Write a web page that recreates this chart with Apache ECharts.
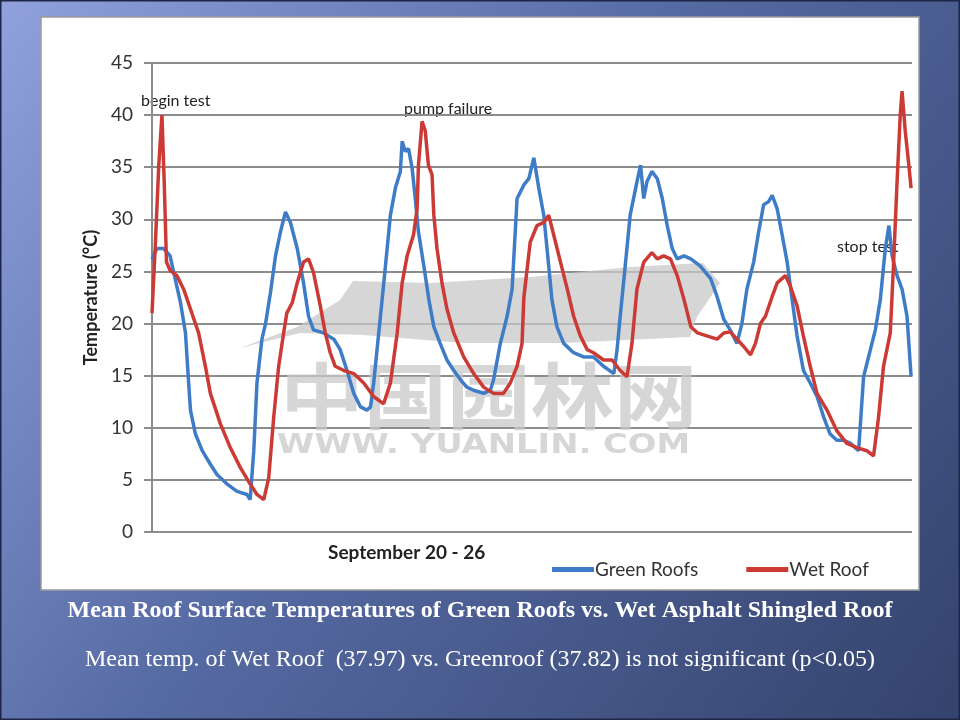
<!DOCTYPE html>
<html>
<head>
<meta charset="utf-8">
<script src="https://cdn.jsdelivr.net/npm/echarts@6/dist/echarts.min.js"></script>
<style>
  html, body { margin: 0; padding: 0; }
  #main { width: 960px; height: 720px; }
</style>
</head>
<body>
<div id="main"></div>
<script>
// hours since start of test (Sept 20 - 26)
var greenHours = [0,1.1,2.6,4.0,4.8,6.3,7.4,8.1,8.5,9.6,11.1,12.9,14.4,16.6,18.8,21.0,21.7,22.5,23.2,24.3,25.1,26.2,27.3,28.4,29.5,30.6,32.1,33.5,34.6,35.7,37.9,40.2,41.6,43.1,44.6,46.1,47.5,48.3,49.0,50.5,51.6,52.7,53.8,54.9,55.3,56.0,56.7,57.5,58.2,58.9,60.1,61.2,62.3,63.7,65.2,66.7,68.2,69.6,71.1,73.3,74.8,75.5,77.0,78.5,79.6,80.7,82.2,83.3,84.4,85.5,86.6,87.7,88.4,89.5,91.0,93.2,95.4,97.6,99.8,102.1,102.8,103.5,104.6,105.7,107.2,108.0,108.7,109.4,110.5,111.7,112.8,113.9,115.0,116.1,117.6,119.1,121.2,123.5,124.9,126.4,127.8,129.3,130.4,131.5,133.0,134.1,135.2,136.3,137.1,138.2,139.3,140.4,141.5,142.6,144.0,145.5,147.0,148.5,149.9,151.4,152.9,154.4,156.2,157.3,158.8,159.9,161.0,162.1,162.9,163.6,164.7,165.8,166.9,167.8];
var greenTemps = [26.2,27.2,27.2,26.5,24.9,22,19.1,14.3,11.7,9.4,7.8,6.5,5.5,4.6,3.9,3.6,3.1,7.8,14.3,18.5,20,23,26.5,28.8,30.7,29.7,27.2,23.9,20.7,19.4,19.1,18.5,17.5,15.5,13.3,12,11.7,12,14.3,20.7,25.5,30.4,33,34.6,37.5,36.5,36.8,34.9,32,28.8,25.5,22.3,19.7,18.1,16.5,15.5,14.6,13.9,13.6,13.3,13.6,14.6,18.1,20.7,23.3,32,33.3,33.9,35.9,33,30.4,25.5,22.3,19.7,18.1,17.2,16.8,16.8,15.9,15.2,17.5,20.7,25.5,30.4,33.6,35.2,32,33.6,34.6,33.9,32,29.4,27.2,26.2,26.5,26.2,25.5,24.3,22.6,20.4,19.4,18.1,20,23.3,25.9,28.8,31.4,31.7,32.3,31,28.5,25.9,22.3,18.8,15.5,14.3,13,11,9.4,8.8,8.8,8.5,7.8,14.9,17.5,19.4,22.3,27.2,29.4,26.5,24.6,23.3,20.7,14.9];

var wetHours = [0,0.7,1.5,2.2,2.7,3.2,4.0,5.5,7.0,8.5,10.3,11.8,12.9,15.1,17.3,19.5,21.7,23.2,24.7,25.8,26.9,28.0,29.1,29.8,31.0,32.1,33.5,34.6,35.7,37.2,38.3,39.4,40.5,42.4,44.6,46.8,49.0,51.2,52.7,54.2,55.3,56.4,57.8,58.6,58.9,59.7,60.4,61.1,61.9,62.3,63.0,64.1,65.2,66.7,68.9,71.1,73.3,75.5,77.7,79.2,80.7,81.8,82.2,83.6,85.1,86.6,87.7,88.8,90.3,91.8,93.2,94.7,96.2,97.6,99.8,101.7,103.5,105.0,106.1,107.2,108.7,110.5,111.7,113.1,114.6,116.1,117.6,119.1,120.6,122.8,124.9,126.4,127.8,129.3,130.8,132.3,133.4,134.5,135.6,137.1,138.2,140.0,141.1,142.6,144.0,145.5,147.0,149.2,151.4,153.6,155.8,158.0,159.5,160.6,161.7,163.2,163.9,164.7,165.4,165.8,166.5,167.3,167.8];
var wetTemps = [21,27.2,35.2,40,33.6,25.9,25.1,24.6,23.3,21.4,19.1,15.9,13.3,10.4,8.1,6.2,4.6,3.6,3.1,5.2,11,15.9,19.1,21,22,23.9,25.9,26.2,24.9,21.7,19.1,17.2,15.9,15.5,15.2,14.3,13,12.3,14.3,19.1,23.9,26.5,28.5,31,35.2,39.4,38.5,35.2,34.3,30.4,27.2,23.9,21.4,19.1,16.8,15.2,13.9,13.3,13.3,14.3,15.9,18.1,22.5,27.8,29.4,29.7,30.4,28.5,25.9,23.3,20.7,18.8,17.5,17.2,16.5,16.5,15.5,14.9,18.1,23.3,25.9,26.8,26.2,26.5,26.2,24.6,22.3,19.7,19.1,18.8,18.5,19.1,19.2,18.5,17.8,17,18.1,20,20.7,22.6,23.9,24.6,23.6,21.7,18.8,15.9,13.3,11.7,9.7,8.5,8.1,7.8,7.3,11,15.9,19.1,25.5,33.6,40,42.3,38.5,35.2,33];

var seriesNames = ['Green Roofs', 'Wet Roof'];
var yTicks = { min: 0, max: 45, step: 5 };

function pairs(hours, temps) {
    return hours.map(function (h, i) { return [h, temps[i]]; });
}

var chart = echarts.init(document.getElementById('main'));
var font = 'Lato, "Open Sans", sans-serif';
var wmGray = 'rgba(200,200,200,0.75)';

chart.setOption({
    backgroundColor: new echarts.graphic.LinearGradient(0, 0, 1, 1, [
        {offset: 0, color: '#90a1de'},
        {offset: 0.45, color: '#566aa3'},
        {offset: 1, color: '#34436d'}
    ]),
    animation: false,
    color: ['#3f7cc8', '#cc3a35'],
    grid: {left: 152, right: 48, top: 63, bottom: 188},
    xAxis: {
        type: 'value',
        min: 0,
        max: 168,
        axisLabel: {show: false},
        axisTick: {show: false},
        axisLine: {show: false},
        splitLine: {show: false}
    },
    yAxis: {
        type: 'value',
        min: yTicks.min,
        max: yTicks.max,
        interval: yTicks.step,
        name: 'Temperature (°C)',
        nameLocation: 'middle',
        nameGap: 48,
        nameTextStyle: {fontFamily: font, fontWeight: 'bold', fontSize: 18, color: '#222'},
        axisLine: {show: true, lineStyle: {color: '#8c8c8c', width: 2}},
        axisTick: {show: true, length: 8, lineStyle: {color: '#8c8c8c', width: 2}},
        axisLabel: {fontFamily: font, fontSize: 19, color: '#333', margin: 19},
        splitLine: {lineStyle: {color: '#8c8c8c', width: 2}}
    },
    legend: {
        left: 547,
        top: 555,
        itemWidth: 42,
        itemHeight: 5,
        itemGap: 48,
        icon: 'rect',
        textStyle: {fontFamily: font, fontSize: 19, color: '#333', padding: [0, 0, 0, -4]},
        data: seriesNames
    },
    graphic: [
        {type: 'rect', z: -10, shape: {x: 41, y: 17, width: 878, height: 573},
            style: {fill: '#fff', stroke: '#9a9a9a', lineWidth: 1.5}},
        {type: 'rect', z: -10, shape: {x: 0.5, y: 0.5, width: 959, height: 719},
            style: {fill: null, stroke: '#1e2645', lineWidth: 2}},
        {type: 'polygon', z: 1, shape: {points: [
            [240, 348], [297, 327], [340, 300], [353, 281], [430, 283], [530, 277], [630, 267],
            [703, 263], [720, 283], [697, 317], [690, 337], [563, 343], [463, 343], [363, 335], [300, 333]
        ]}, style: {fill: wmGray}},
        {type: 'text', z: 1, x: 280, y: 360, scaleX: 1.16,
            style: {text: '中国园林网', font: 'bold 72px "Noto Sans CJK SC"', fill: wmGray}},
        {type: 'text', z: 1, x: 277, y: 433, scaleX: 1.3,
            style: {text: 'WWW. YUANLIN. COM', font: 'bold 26px "DejaVu Sans"', fill: wmGray}},
        {type: 'text', left: 141, top: 93,
            style: {text: 'begin test', font: '16px ' + font, fill: '#222'}},
        {type: 'text', left: 404, top: 101,
            style: {text: 'pump failure', font: '16px ' + font, fill: '#222'}},
        {type: 'text', left: 837, top: 239,
            style: {text: 'stop test', font: '16px ' + font, fill: '#222'}},
        {type: 'text', left: 328, top: 543,
            style: {text: 'September 20 - 26', font: 'bold 19px ' + font, fill: '#222'}},
        {type: 'text', left: 'center', top: 599,
            style: {text: 'Mean Roof Surface Temperatures of Green Roofs vs. Wet Asphalt Shingled Roof',
                font: 'bold 24px "Liberation Serif", serif', fill: '#fff'}},
        {type: 'text', left: 'center', top: 648,
            style: {text: 'Mean temp. of Wet Roof  (37.97) vs. Greenroof (37.82) is not significant (p<0.05)',
                font: '24px "Liberation Serif", serif', fill: '#fff'}}
    ],
    series: [
        {
            name: seriesNames[0],
            type: 'line',
            showSymbol: false,
            lineStyle: {width: 3.5},
            data: pairs(greenHours, greenTemps)
        },
        {
            name: seriesNames[1],
            type: 'line',
            showSymbol: false,
            lineStyle: {width: 3.5},
            data: pairs(wetHours, wetTemps)
        }
    ]
});
</script>
</body>
</html>
